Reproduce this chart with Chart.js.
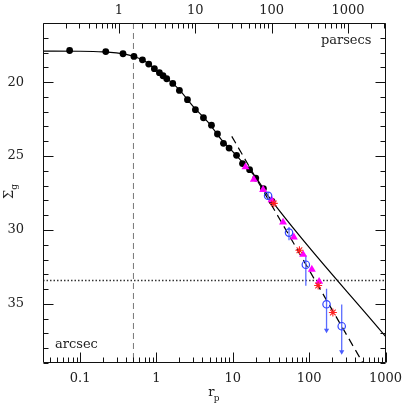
<!DOCTYPE html>
<html>
<head>
<meta charset="utf-8">
<script src="https://cdn.jsdelivr.net/npm/chart.js@4.4.1/dist/chart.umd.min.js"></script>
<style>
  html, body { margin: 0; padding: 0; background: #fff; }
</style>
</head>
<body>
<canvas id="profile" width="407" height="407"></canvas>
<script>
// surface brightness profile, radius in arcsec
const blackR = [0.073, 0.217, 0.365, 0.508, 0.656, 0.793, 0.94, 1.094, 1.22, 1.364, 1.636, 2.0, 2.55, 3.24, 4.13, 5.26, 6.3, 7.55, 8.94, 11.2, 13.4, 16.6, 20.0, 25.2, 32.7]
const blackS = [17.86, 17.93, 18.08, 18.26, 18.49, 18.78, 19.09, 19.36, 19.57, 19.77, 20.09, 20.56, 21.19, 21.86, 22.41, 22.91, 23.51, 24.14, 24.46, 24.95, 25.51, 25.92, 26.49, 27.2, 28.06]

const triR = [14.67, 18.85, 24.96, 32.2, 45.5, 63.0, 83.4, 108.4, 135.1]
const triS = [25.74, 26.59, 27.27, 27.97, 29.48, 30.49, 31.66, 32.67, 33.49]

const openR = [29.0, 54.5, 90.5, 169, 267]
const openS = [27.69, 30.18, 32.35, 35.03, 36.51]
const openLo = [27.43, 29.8, 31.71, 33.98, 35.04]
const openHi = [27.9, 30.7, 33.78, 36.78, 38.24]
const openLimit = [false, false, false, true, true]

const starR = [34.4, 74.6, 131.2, 204.5]
const starS = [28.2, 31.37, 33.76, 35.58]

// fitted profiles
const modelR = [0.0327, 0.1, 0.2, 0.3, 0.4, 0.5, 0.7, 1.0, 1.5, 2.0, 3.0, 5.0, 7.0, 10, 15, 20, 30, 1000]
const modelS = [17.9, 17.91, 17.95, 18.02, 18.12, 18.25, 18.57, 19.2, 19.93, 20.52, 21.62, 22.85, 23.85, 24.7, 25.7, 26.45, 27.8, 37.2]
const powerR = [9.7, 506]
const powerS = [23.67, 39.0]

const seeingR = 0.5
const limitS = 33.42

const xTicks = [0.1, 1, 10, 100, 1000]
const pcTicks = [1, 10, 100, 1000]
const yTicks = [20, 25, 30, 35]
const xMin = 0.0327, xMax = 1000
const yMin = 16, yMax = 39
const pcPerArcsec = 3.1

const FONT = 'DejaVu Serif'
const INK = '#222'

const pts = (xs, ys) => xs.map((x, i) => ({ x: x, y: ys[i] }))

const errorBars = openR.map((r, i) => ({
  data: [{ x: r, y: openLo[i] }, { x: r, y: openHi[i] }],
  showLine: true,
  borderColor: '#5a6cff',
  borderWidth: 1.3,
  pointRadius: 0,
  order: 4
}))

// frame, inward ticks and titles, placed with the chart scales
const framePlugin = {
  id: 'frame',
  afterDraw(chart) {
    const ctx = chart.ctx
    const a = chart.chartArea
    const scales = chart.scales
    ctx.save()
    ctx.setLineDash([])
    ctx.lineDashOffset = 0
    ctx.globalAlpha = 1
    ctx.globalCompositeOperation = 'source-over'
    ctx.lineCap = 'butt'
    ctx.strokeStyle = '#111'
    ctx.lineWidth = 1

    const L = Math.round(a.left) + 0.5, R = Math.round(a.right) - 0.5
    const T = Math.round(a.top) + 0.5, B = Math.round(a.bottom) - 0.5
    ctx.beginPath()
    ctx.moveTo(L, T); ctx.lineTo(R, T); ctx.lineTo(R, B); ctx.lineTo(L, B); ctx.closePath()
    ctx.stroke()

    const logTicks = (scale, min, max, y0, dir) => {
      for (let d = Math.floor(Math.log10(min)); d <= Math.ceil(Math.log10(max)); d++) {
        for (let m = 1; m <= 9; m++) {
          const v = m * Math.pow(10, d)
          if (v < min || v > max) continue
          const px = Math.round(scale.getPixelForValue(v)) + 0.5
          const len = m === 1 ? 10 : 5
          ctx.beginPath()
          ctx.moveTo(px, y0)
          ctx.lineTo(px, y0 + dir * len)
          ctx.stroke()
        }
      }
    }
    logTicks(scales.x, xMin, xMax, B, -1)
    logTicks(scales.x2, xMin * pcPerArcsec, xMax * pcPerArcsec, T, 1)

    for (let v = yMin; v <= yMax; v++) {
      const py = Math.round(scales.y.getPixelForValue(v)) + 0.5
      const len = v % 5 === 0 ? 10 : 5
      ctx.beginPath()
      ctx.moveTo(L, py); ctx.lineTo(L + len, py)
      ctx.moveTo(R, py); ctx.lineTo(R - len, py)
      ctx.stroke()
    }

    ctx.fillStyle = INK
    ctx.font = '13px ' + FONT
    ctx.textAlign = 'right'
    ctx.textBaseline = 'alphabetic'
    ctx.fillText('parsecs', a.right - 14, 44)
    ctx.textAlign = 'left'
    ctx.fillText('arcsec', a.left + 12, 348)

    // x title r_p
    const cx = (a.left + a.right) / 2
    ctx.fillText('r', cx - 6, 396)
    ctx.font = '9px ' + FONT
    ctx.fillText('p', cx - 0.5, 401)

    // y title Sigma_g
    ctx.translate(13, 199)
    ctx.rotate(-Math.PI / 2)
    ctx.font = '13px ' + FONT
    ctx.fillText('Σ', 0, 0)
    const w = ctx.measureText('Σ').width
    ctx.font = '9px ' + FONT
    ctx.fillText('g', w, 4)
    ctx.restore()
  }
}

new Chart(document.getElementById('profile'), {
  type: 'scatter',
  data: {
    datasets: [
      {
        data: pts(starR, starS),
        pointStyle: 'star', pointRadius: 4, borderColor: '#ff2020', borderWidth: 1.1,
        order: 0
      },
      {
        data: pts(openR, openS),
        pointStyle: 'circle', pointRadius: 3.7, borderColor: '#3344ff',
        backgroundColor: 'rgba(0,0,0,0)', borderWidth: 1.2,
        order: 1
      },
      {
        data: pts(openR.filter((r, i) => openLimit[i]), openHi.filter((h, i) => openLimit[i])),
        pointStyle: 'triangle', rotation: 180, pointRadius: 3, borderWidth: 0,
        backgroundColor: '#4a5cff',
        order: 2
      },
      {
        data: pts(triR, triS),
        pointStyle: 'triangle', pointRadius: 4.6, backgroundColor: '#ff00ff', borderColor: '#ff00ff', borderWidth: 0,
        order: 3
      },
      ...errorBars,
      {
        data: pts(blackR, blackS),
        pointStyle: 'circle', pointRadius: 3.4, backgroundColor: '#000', borderWidth: 0,
        order: 5
      },
      {
        data: pts(modelR, modelS),
        showLine: true, cubicInterpolationMode: 'monotone',
        borderColor: '#000', borderWidth: 1.2, pointRadius: 0,
        order: 6
      },
      {
        data: pts(powerR, powerS),
        showLine: true, borderColor: '#000', borderWidth: 1.2, borderDash: [8, 5], pointRadius: 0,
        order: 7
      },
      {
        data: [{ x: seeingR, y: yMin }, { x: seeingR, y: yMax }],
        showLine: true, borderColor: '#777', borderWidth: 1, borderDash: [6, 4], pointRadius: 0,
        order: 8
      },
      {
        data: [{ x: xMin, y: limitS }, { x: xMax, y: limitS }],
        showLine: true, borderColor: '#333', borderWidth: 1.3, borderDash: [1.5, 2], pointRadius: 0,
        order: 9
      }
    ]
  },
  options: {
    responsive: false,
    devicePixelRatio: 1,
    animation: false,
    layout: { padding: { left: 0, right: 21.5, top: 0, bottom: 0 } },
    plugins: { legend: { display: false }, tooltip: { enabled: false } },
    scales: {
      x: {
        type: 'logarithmic', position: 'bottom', min: xMin, max: xMax,
        grid: { display: false }, border: { display: false },
        afterBuildTicks: s => { s.ticks = xTicks.map(v => ({ value: v })) },
        afterFit: s => { s.height = 44 },
        ticks: {
          autoSkip: false, maxRotation: 0, padding: 0, color: INK,
          font: { family: FONT, size: 13 },
          callback: v => String(v)
        }
      },
      x2: {
        type: 'logarithmic', position: 'top', min: xMin * pcPerArcsec, max: xMax * pcPerArcsec,
        grid: { display: false }, border: { display: false },
        afterBuildTicks: s => { s.ticks = pcTicks.map(v => ({ value: v })) },
        afterFit: s => { s.height = 23 },
        ticks: {
          autoSkip: false, maxRotation: 0, padding: -3, color: INK,
          font: { family: FONT, size: 13 },
          callback: v => String(v)
        }
      },
      y: {
        type: 'linear', reverse: true, min: yMin, max: yMax,
        grid: { display: false }, border: { display: false },
        afterBuildTicks: s => { s.ticks = yTicks.map(v => ({ value: v })) },
        afterFit: s => { s.width = 43 },
        ticks: {
          padding: 11, color: INK,
          font: { family: FONT, size: 13 }
        }
      }
    }
  },
  plugins: [framePlugin]
})
</script>
</body>
</html>
